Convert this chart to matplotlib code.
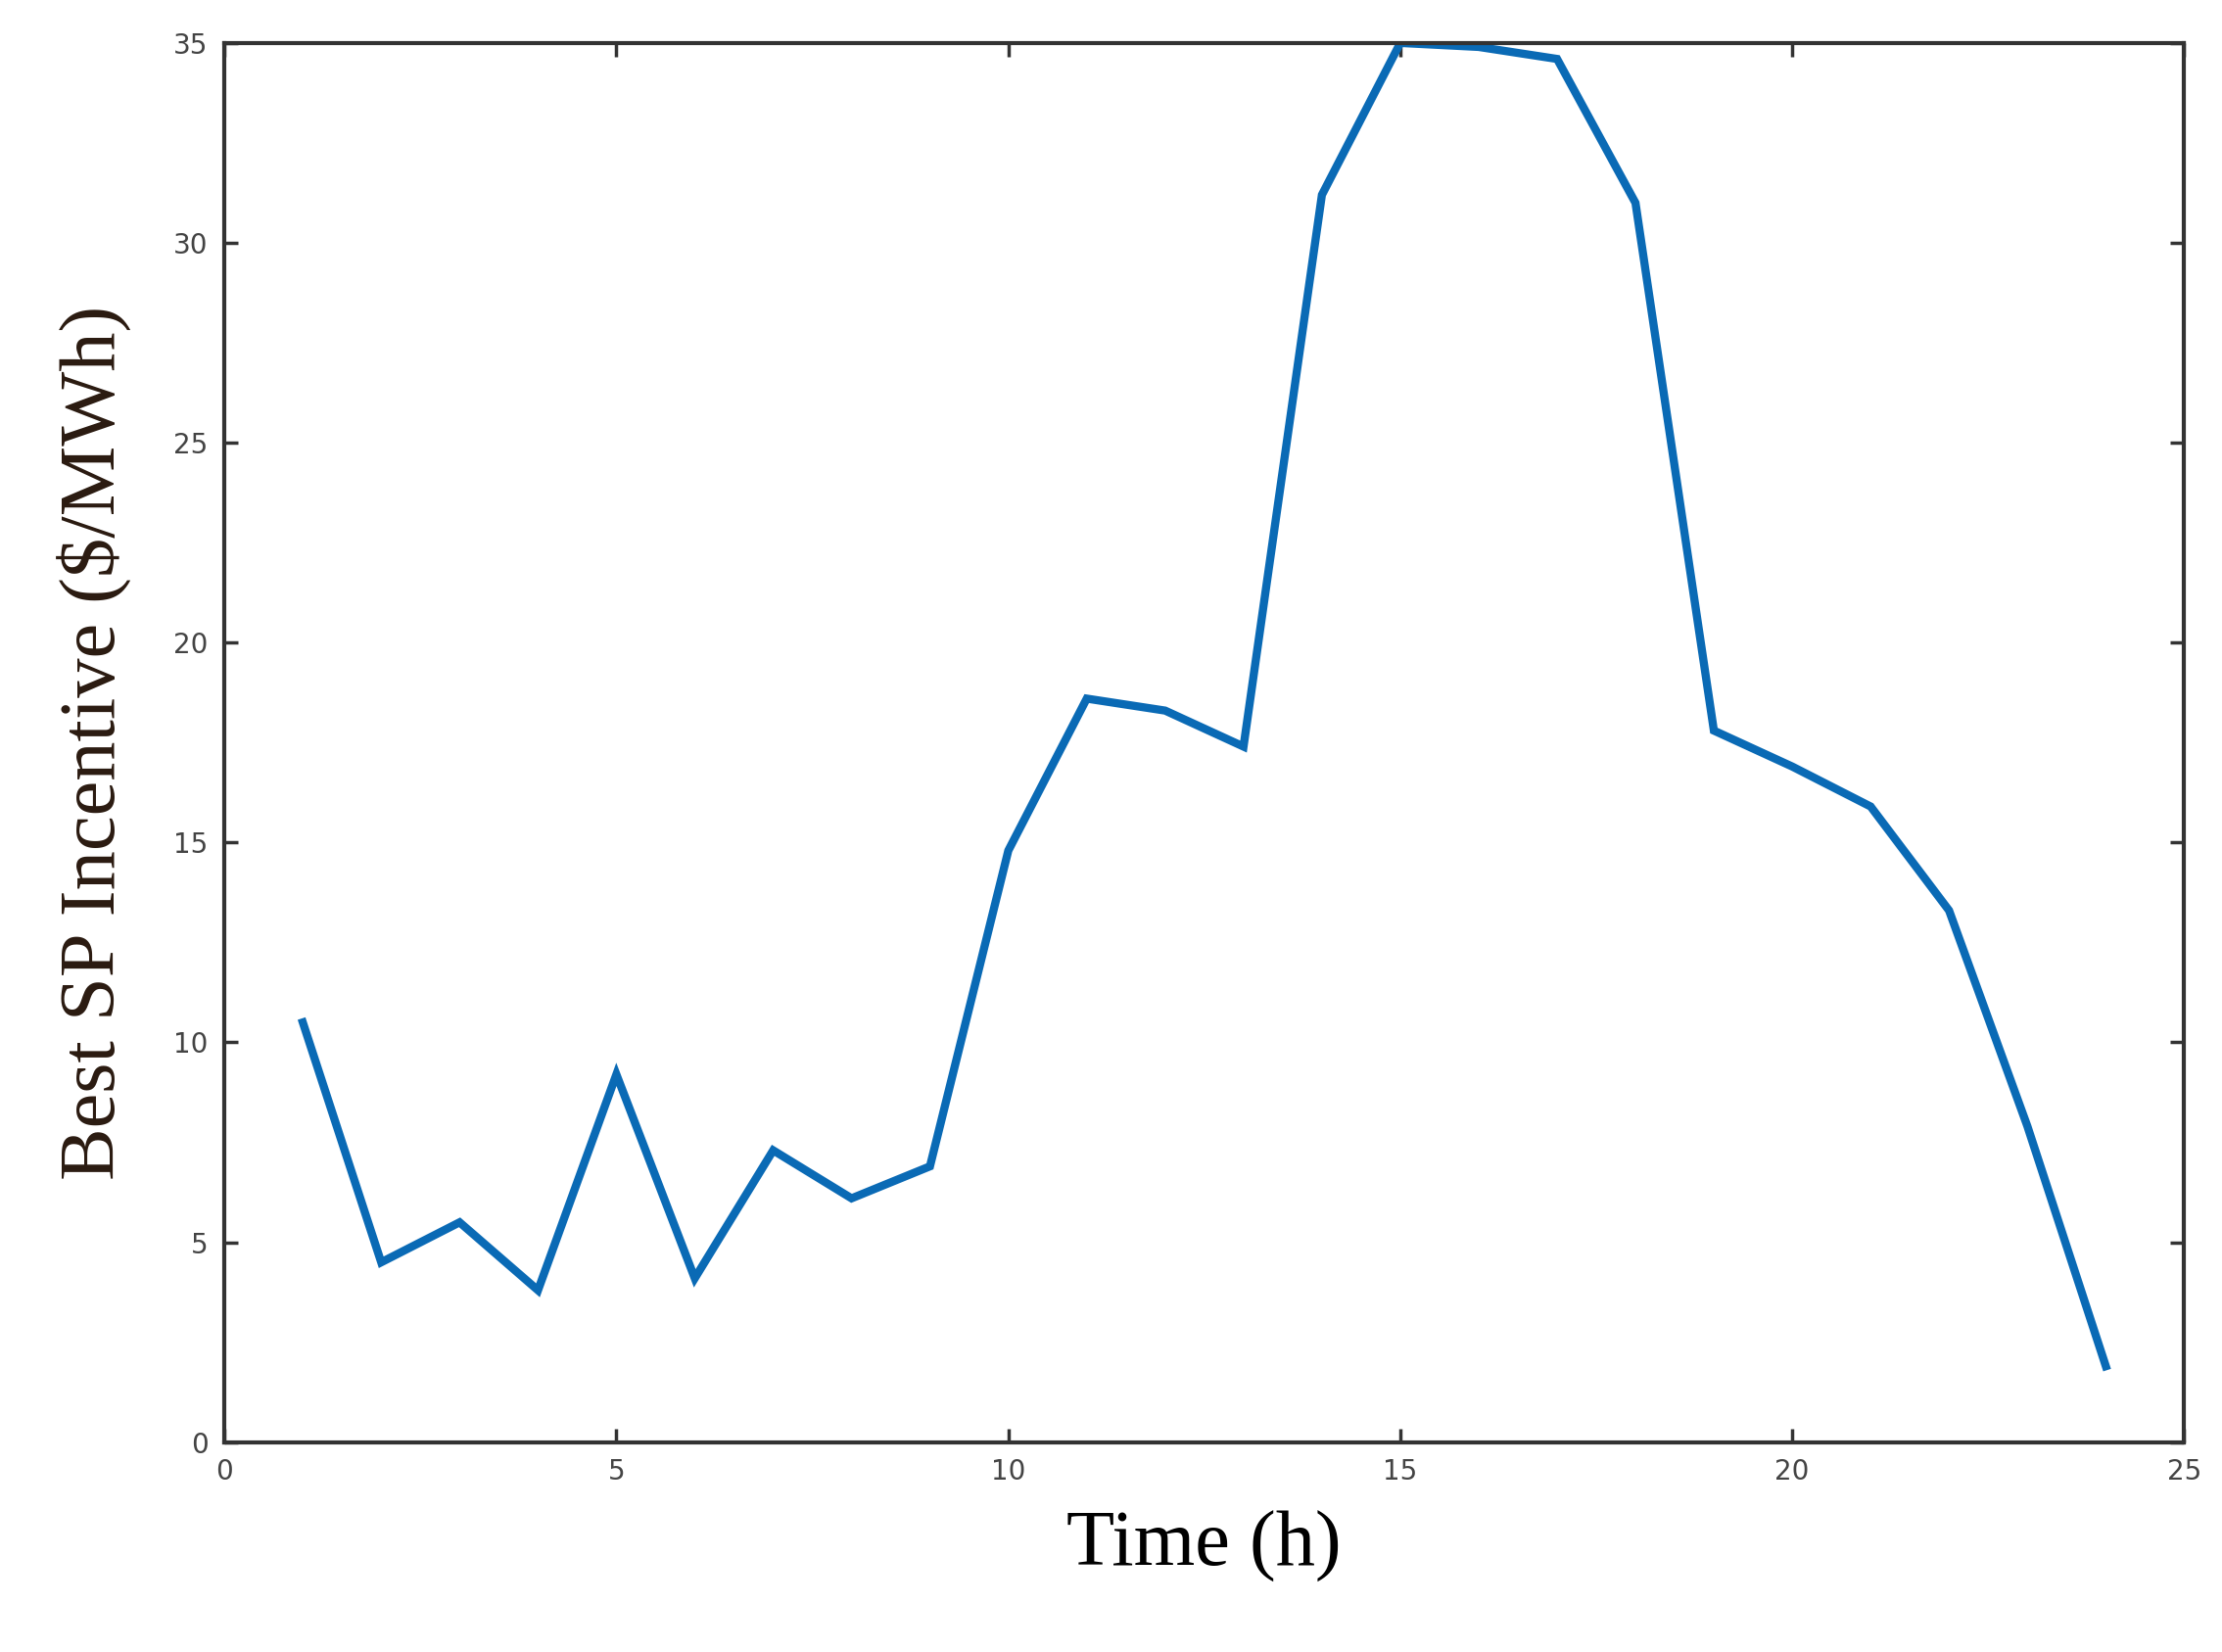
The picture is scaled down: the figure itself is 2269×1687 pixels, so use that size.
import matplotlib
matplotlib.use("Agg")
import matplotlib.pyplot as plt

hours = list(range(1, 25))
incentive = [10.5, 4.5, 5.5, 3.8, 9.2, 4.1, 7.3, 6.1, 6.9, 14.8, 18.6, 18.3,
             17.4, 31.2, 35.0, 34.9, 34.6, 31.0, 17.8, 16.9, 15.9, 13.3, 7.9, 1.9]
xticks = [0, 5, 10, 15, 20, 25]
yticks = [0, 5, 10, 15, 20, 25, 30, 35]

fig = plt.figure(figsize=(22.69, 16.87), dpi=100)
ax = fig.add_axes([0.101, 0.127, 0.882, 0.847])
ax.plot(hours, incentive, color="#0a6ab5", linewidth=6, solid_joinstyle="miter")
ax.set_xlim(0, 25)
ax.set_ylim(0, 35)
ax.set_xticks(xticks)
ax.set_yticks(yticks)
ax.tick_params(direction="in", length=10, width=2.5, top=True, right=True,
               labelsize=20, labelcolor="#444444", color="#333333", pad=12)
for s in ax.spines.values():
    s.set_linewidth(3)
    s.set_color("#333333")
ax.set_xlabel("Time (h)", family="Liberation Serif", fontsize=58, labelpad=18)
ax.set_ylabel("Best SP Incentive ($/MWh)", family="Liberation Serif", fontsize=58,
              labelpad=30, color="#2a1a10")
fig.savefig("out.png", dpi=100)
